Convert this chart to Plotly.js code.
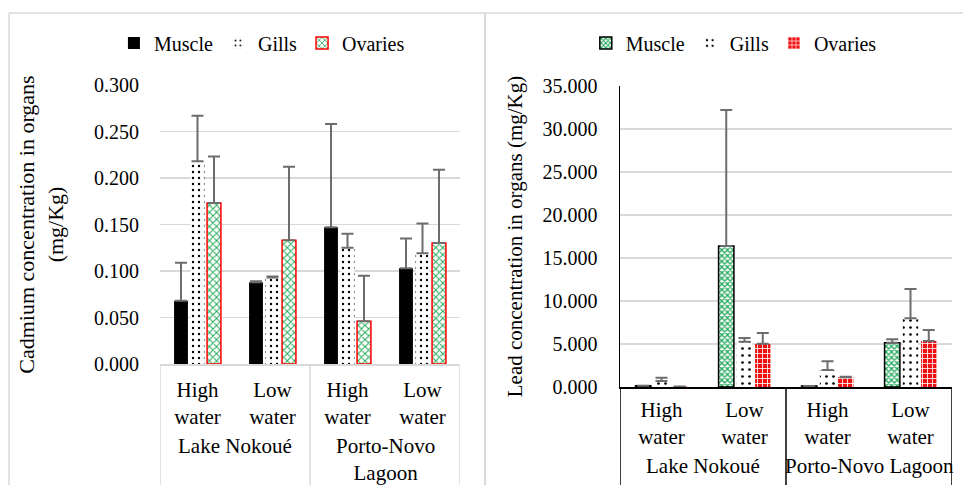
<!DOCTYPE html>
<html>
<head>
<meta charset="utf-8">
<script src="https://cdn.plot.ly/plotly-3.0.1.min.js"></script>
<style>html,body{margin:0;padding:0;background:#fff;}#chart{width:963px;height:485px;}</style>
</head>
<body>
<div id="chart"></div>
<script>
// ---- data ----
const seasons = ["High<br>water", "Low<br>water", "High<br>water", "Low<br>water"];
const cdSites = ["Lake Nokoué", "Lake Nokoué", "Porto-Novo<br>Lagoon", "Porto-Novo<br>Lagoon"];
const pbSites = ["Lake Nokoué", "Lake Nokoué", "Porto-Novo Lagoon", "Porto-Novo Lagoon"];

const cdMuscle = [0.068, 0.088, 0.147, 0.103];
const cdMuscleErr = [0.041, 0.001, 0.111, 0.032];
const cdGills = [0.218, 0.093, 0.125, 0.119];
const cdGillsErr = [0.049, 0.001, 0.015, 0.032];
const cdOvaries = [0.173, 0.133, 0.046, 0.130];
const cdOvariesErr = [0.050, 0.079, 0.049, 0.079];

const pbMuscle = [0.15, 16.40, 0.12, 5.15];
const pbMuscleErr = [0.0, 15.80, 0.0, 0.40];
const pbGills = [0.70, 5.27, 1.98, 7.98];
const pbGillsErr = [0.38, 0.43, 1.02, 3.42];
const pbOvaries = [0.05, 5.04, 1.13, 5.35];
const pbOvariesErr = [0.0, 1.24, 0.07, 1.28];

const organNames = ["Muscle", "Gills", "Ovaries"];
const cdTitle = "Cadmium concentration in organs<br>(mg/Kg)";
const pbTitle = "Lead concentration in organs (mg/Kg)";

// ---- styling ----
const FONT = "Liberation Serif, Times New Roman, serif";
const W = 963, H = 485;
const ERRC = "#6d6d6d";
const GRID = "#d9d9d9";
const idx = seasons.map((_, i) => i);
function err(arr) {
  return {type: "data", symmetric: false, array: arr, arrayminus: arr.map(() => 0),
          color: ERRC, thickness: 2, width: 6};
}
const px = v => v / W;
const py = v => 1 - v / H;

// group boundaries and centres derived from the site arrays
function groups(sites) {
  const out = [];
  sites.forEach((s, i) => {
    if (!out.length || out[out.length - 1].name !== s) out.push({name: s, first: i, last: i});
    else out[out.length - 1].last = i;
  });
  return out;
}
function groupDecor(sites, xref, axisYpx, labelYpx, color) {
  const g = groups(sites);
  const shapes = [], anns = [];
  const bounds = [g[0].first - 0.5].concat(g.map(o => o.last + 0.5));
  bounds.forEach(b => shapes.push({type: "line", xref: xref, yref: "paper", x0: b, x1: b,
    y0: py(axisYpx), y1: 0, line: {color: color, width: 1.5}}));
  g.forEach(o => anns.push({xref: xref, yref: "paper", x: (o.first + o.last) / 2,
    y: py(labelYpx), yanchor: "top", xanchor: "center", showarrow: false, text: o.name,
    font: {family: FONT, size: 21, color: "#000"}}));
  return {shapes, anns};
}
const dL = groupDecor(cdSites, "x", 364, 432, GRID);
const dR = groupDecor(pbSites, "x2", 387, 452, "#000000");

const traces = [
  {type: "bar", name: organNames[0], x: idx, y: cdMuscle, error_y: err(cdMuscleErr),
   xaxis: "x", yaxis: "y", legend: "legend",
   marker: {color: "#000000", line: {width: 0}}},
  {type: "bar", name: organNames[1], x: idx, y: cdGills, error_y: err(cdGillsErr),
   xaxis: "x", yaxis: "y", legend: "legend",
   marker: {color: "#ffffff", line: {width: 0},
            pattern: {shape: ".", fgcolor: "#000000", bgcolor: "#ffffff", size: 6, solidity: 0.12, fillmode: "replace"}}},
  {type: "bar", name: organNames[2], x: idx, y: cdOvaries, error_y: err(cdOvariesErr),
   xaxis: "x", yaxis: "y", legend: "legend",
   marker: {color: "#ffffff", line: {width: 1.5, color: "#ff0000"},
            pattern: {shape: "x", fgcolor: "#1fa955", bgcolor: "#ffffff", size: 5, solidity: 0.35, fillmode: "replace"}}},
  {type: "bar", name: organNames[0], x: idx, y: pbMuscle, error_y: err(pbMuscleErr),
   xaxis: "x2", yaxis: "y2", legend: "legend2",
   marker: {color: "#ffffff", line: {width: 1.5, color: "#000000"},
            pattern: {shape: "x", fgcolor: "#22a85a", bgcolor: "#ffffff", size: 4, solidity: 0.55, fillmode: "replace"}}},
  {type: "bar", name: organNames[1], x: idx, y: pbGills, error_y: err(pbGillsErr),
   xaxis: "x2", yaxis: "y2", legend: "legend2",
   marker: {color: "#ffffff", line: {width: 0},
            pattern: {shape: ".", fgcolor: "#000000", bgcolor: "#ffffff", size: 7, solidity: 0.12, fillmode: "replace"}}},
  {type: "bar", name: organNames[2], x: idx, y: pbOvaries, error_y: err(pbOvariesErr),
   xaxis: "x2", yaxis: "y2", legend: "legend2",
   marker: {color: "#ff0000", line: {width: 0},
            pattern: {shape: "+", fgcolor: "#ffffff", bgcolor: "#ee1111", size: 5, solidity: 0.3, fillmode: "replace"}}}
];

const tickF = {family: FONT, size: 20, color: "#000"};
const catF = {family: FONT, size: 21, color: "#000"};
const layout = {
  width: W, height: H,
  margin: {l: 0, r: 0, t: 0, b: 0, autoexpand: false},
  paper_bgcolor: "#ffffff", plot_bgcolor: "rgba(0,0,0,0)",
  font: {family: FONT, size: 20, color: "#000000"},
  barmode: "group", bargap: 0.34, bargroupgap: 0.16,
  showlegend: true,
  legend: {orientation: "h", x: 0.272, xanchor: "center", y: py(43), yanchor: "middle",
           font: {family: FONT, size: 20, color: "#000"}, bgcolor: "rgba(0,0,0,0)", itemwidth: 30},
  legend2: {orientation: "h", x: 0.762, xanchor: "center", y: py(43), yanchor: "middle",
            font: {family: FONT, size: 20, color: "#000"}, bgcolor: "rgba(0,0,0,0)", itemwidth: 30},
  xaxis: {domain: [px(160), px(460)], anchor: "y", range: [-0.5, seasons.length - 0.5],
          tickvals: idx, ticktext: seasons, tickfont: catF, ticks: "", ticklabelstandoff: 6,
          showline: true, linecolor: GRID, linewidth: 1.5, showgrid: false, zeroline: false, automargin: false},
  yaxis: {domain: [py(364), py(85)], anchor: "x", range: [0, 0.3], dtick: 0.05, tick0: 0,
          tickformat: ".3f", showline: false, showgrid: true, gridcolor: GRID, gridwidth: 1.5,
          zeroline: false, ticks: "", ticklabelstandoff: 20, automargin: false, tickfont: tickF,
          title: {text: cdTitle, font: {family: FONT, size: 22, color: "#000"}, standoff: 24}},
  xaxis2: {domain: [px(620), px(952)], anchor: "y2", range: [-0.5, seasons.length - 0.5],
           tickvals: idx, ticktext: seasons, tickfont: catF, ticks: "", ticklabelstandoff: 3,
           showline: true, linecolor: "#000000", linewidth: 1.5, showgrid: false, zeroline: false, automargin: false},
  yaxis2: {domain: [py(387), py(86)], anchor: "x2", range: [0, 35], dtick: 5, tick0: 0,
           tickformat: ".3f", showline: true, linecolor: "#000000", linewidth: 1.5,
           showgrid: true, gridcolor: GRID, gridwidth: 1.5,
           zeroline: false, ticks: "", ticklabelstandoff: 17, automargin: false, tickfont: tickF,
           title: {text: pbTitle, font: {family: FONT, size: 21, color: "#000"}, standoff: 14}},
  shapes: [
    {type: "line", xref: "paper", yref: "paper", x0: px(9), x1: px(9), y0: 0, y1: py(13), line: {color: GRID, width: 1.5}},
    {type: "line", xref: "paper", yref: "paper", x0: px(9), x1: 1, y0: py(13), y1: py(13), line: {color: GRID, width: 1.5}},
    {type: "line", xref: "paper", yref: "paper", x0: px(485), x1: px(485), y0: 0, y1: py(13), line: {color: GRID, width: 2}}
  ].concat(dL.shapes, dR.shapes),
  annotations: dL.anns.concat(dR.anns)
};

Plotly.newPlot("chart", traces, layout, {displayModeBar: false, staticPlot: true});
</script>
</body>
</html>
